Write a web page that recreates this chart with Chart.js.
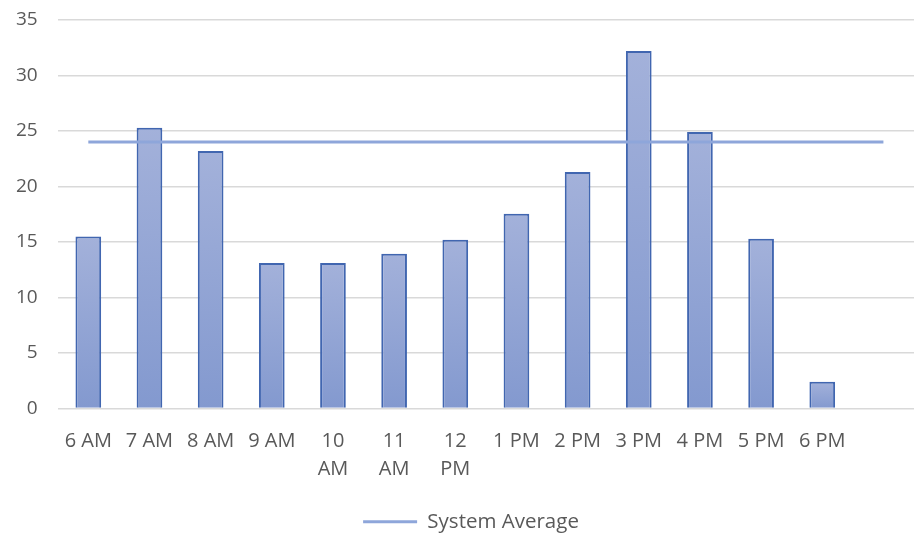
<!DOCTYPE html>
<html>
<head>
<meta charset="utf-8">
<script src="https://cdn.jsdelivr.net/npm/chart.js@4.4.1/dist/chart.umd.min.js"></script>
<style>
  html, body { margin: 0; padding: 0; background: #fff; }
  #wrap { width: 914px; height: 535px; }
</style>
</head>
<body>
<div id="wrap"><canvas id="chartCanvas"></canvas></div>
<script>
// nhãn trục x (cột cuối trống để đường trung bình kéo dài)
const hours = ["6 AM", "7 AM", "8 AM", "9 AM", ["10", "AM"], ["11", "AM"], ["12", "PM"],
  "1 PM", "2 PM", "3 PM", "4 PM", "5 PM", "6 PM", ""];
const hourValues = [15.5, 25.3, 23.2, 13.1, 13.1, 13.95, 15.2, 17.55, 21.3, 32.2, 24.9, 15.3, 2.4, null];
const systemAverage = [24, 24, 24, 24, 24, 24, 24, 24, 24, 24, 24, 24, 24, 24];
const yTicks = [0, 5, 10, 15, 20, 25, 30, 35];

const textColor = "#595959";
const fontFamily = "'Open Sans', 'Noto Sans', sans-serif";

// gradient riêng cho từng cột (sáng ở trên, đậm ở dưới)
function barGradient(context) {
  const chart = context.chart;
  if (!chart.chartArea || context.parsed == null) return "#93a5d5";
  const y = chart.scales.y;
  const top = y.getPixelForValue(context.parsed.y);
  const bottom = y.getPixelForValue(0);
  if (!isFinite(top) || top === bottom) return "#93a5d5";
  const g = chart.ctx.createLinearGradient(0, top, 0, bottom);
  g.addColorStop(0, "#a3b1da");
  g.addColorStop(1, "#8399cf");
  return g;
}

// dời chú thích sang phải một chút
const shiftLegend = {
  id: "shiftLegend",
  afterLayout(chart) {
    chart.legend.left += 16;
    chart.legend.right += 16;
  }
};

const ctx = document.getElementById("chartCanvas").getContext("2d");
const chart = new Chart(ctx, {
  type: "bar",
  data: {
    labels: hours,
    datasets: [
      {
        type: "line",
        label: "System Average",
        data: systemAverage,
        borderColor: "#8ea6da",
        backgroundColor: "#8ea6da",
        borderWidth: 3,
        pointRadius: 0,
        pointHoverRadius: 0,
        fill: false,
        order: 0
      },
      {
        label: "Hours",
        data: hourValues,
        backgroundColor: barGradient,
        borderColor: "#4166b0",
        borderWidth: 2,
        barPercentage: 0.42,
        categoryPercentage: 1,
        order: 1
      }
    ]
  },
  options: {
    responsive: true,
    maintainAspectRatio: false,
    animation: false,
    layout: { padding: { left: -4, right: 0, top: 0, bottom: -7 } },
    plugins: {
      tooltip: { enabled: false },
      legend: {
        position: "bottom",
        labels: {
          filter: (item) => item.text === "System Average",
          usePointStyle: true,
          pointStyle: "line",
          pointStyleWidth: 54,
          color: textColor,
          font: { family: fontFamily, size: 20.5 },
          padding: 0
        }
      }
    },
    scales: {
      x: {
        grid: { display: false, drawTicks: false },
        border: { display: false },
        afterFit: (axis) => { axis.height += 9; },
        ticks: {
          color: textColor,
          font: { family: fontFamily, size: 20, lineHeight: 1.4 },
          maxRotation: 0,
          autoSkip: false,
          padding: 19
        }
      },
      y: {
        min: 0,
        max: 35,
        afterBuildTicks: (axis) => { axis.ticks = yTicks.map(v => ({ value: v })); },
        // chỉnh khoảng trống phía trên vùng vẽ
        afterFit: (axis) => { axis.paddingTop = 20; },
        grid: { color: "#d9d9d9", lineWidth: 1.5, drawTicks: false },
        border: { display: false },
        ticks: {
          color: textColor,
          font: { family: fontFamily, size: 19 },
          padding: 20
        }
      }
    }
  },
  plugins: [shiftLegend]
});
</script>
</body>
</html>
